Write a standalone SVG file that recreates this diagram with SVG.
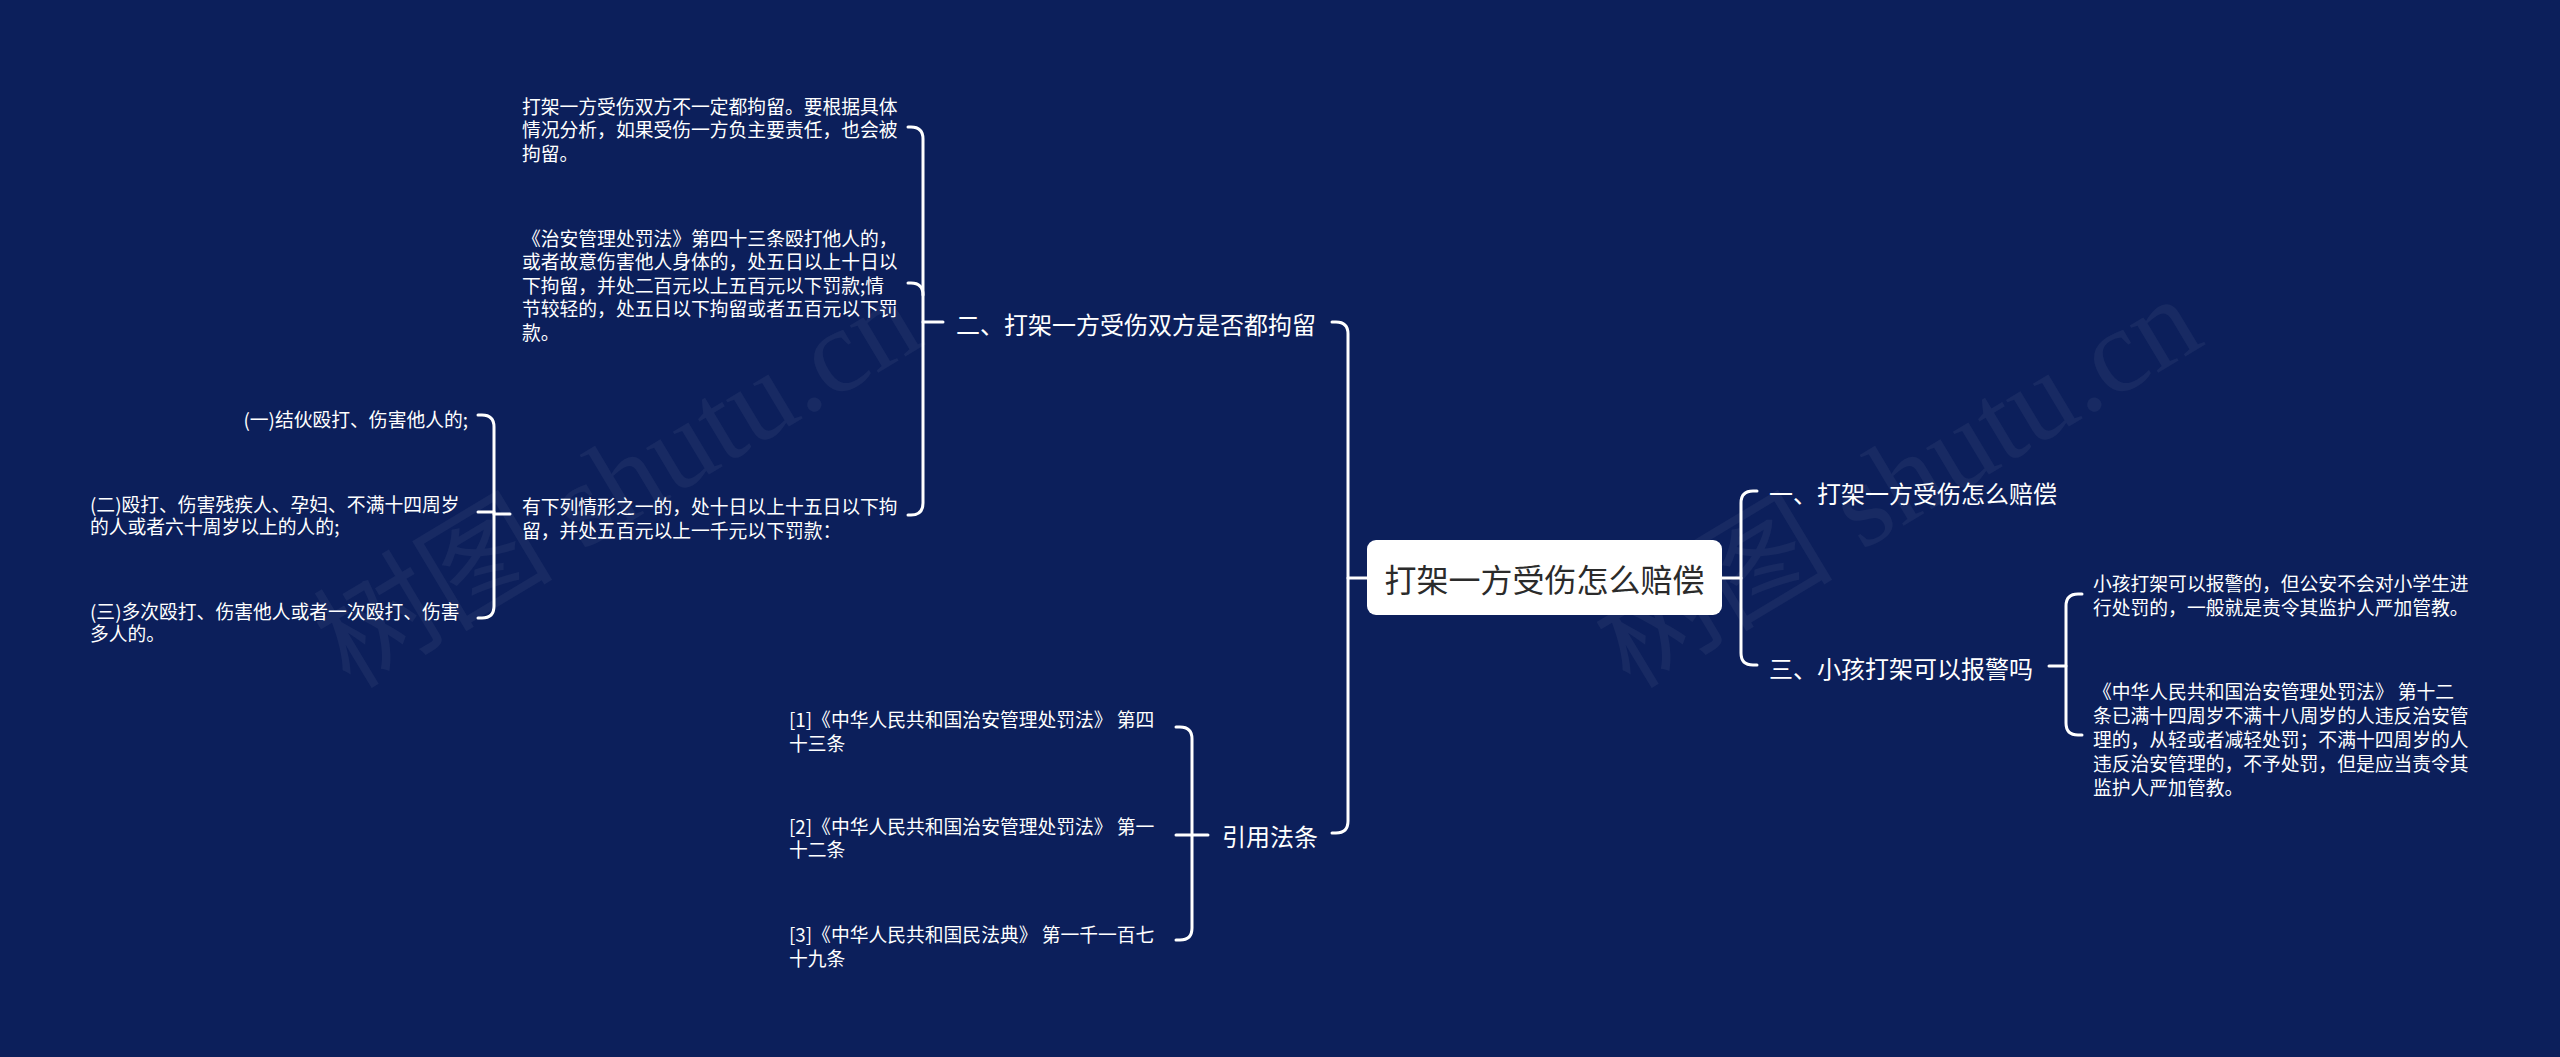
<svg xmlns="http://www.w3.org/2000/svg" width="2560" height="1057" viewBox="0 0 2560 1057">
<style>
.bg{fill:#0c1f5b}
.ln{fill:none;stroke:#ffffff;stroke-width:3;stroke-linecap:round;stroke-linejoin:round}
text{font-family:"Noto Sans CJK SC","Noto Sans",sans-serif;fill:#ffffff;dominant-baseline:central}
.leaf{font-size:18.8px}
.br{font-size:24px}
.root{font-size:32px;fill:#2b2b2b}
.wm{font-family:"Liberation Serif","Noto Sans CJK SC",serif;font-size:120px;fill:#ffffff;fill-opacity:0.05;dominant-baseline:auto}
</style>
<rect class="bg" x="0" y="0" width="2560" height="1057"/>
<g id="watermarks">
<text class="wm" transform="translate(350,690) rotate(-31)">树图 shutu.cn</text>
<text class="wm" transform="translate(1630,690) rotate(-31)">树图 shutu.cn</text>
</g>
<g id="connectors">
<path class="ln" d="M1367,578 H1348"/>
<path class="ln" d="M1332,322 H1336 Q1348,322 1348,334 V821 Q1348,833 1336,833 H1332"/>
<path class="ln" d="M943,322 H923"/>
<path class="ln" d="M908,127 H911 Q923,127 923,139 V503 Q923,515 911,515 H908"/>
<path class="ln" d="M908,283 H911 Q923,283 923,295"/>
<path class="ln" d="M510,514 H494"/>
<path class="ln" d="M478,415 H482 Q494,415 494,427 V606 Q494,618 482,618 H478"/>
<path class="ln" d="M478,512 H494"/>
<path class="ln" d="M1208,835 H1192"/>
<path class="ln" d="M1176,727 H1180 Q1192,727 1192,739 V928 Q1192,940 1180,940 H1176"/>
<path class="ln" d="M1176,835 H1192"/>
<path class="ln" d="M1722,578 H1741"/>
<path class="ln" d="M1757,491 H1753 Q1741,491 1741,503 V653 Q1741,665 1753,665 H1757"/>
<path class="ln" d="M2049,666 H2066"/>
<path class="ln" d="M2082,594 H2078 Q2066,594 2066,606 V723 Q2066,735 2078,735 H2082"/>
</g>
<g id="root">
<rect x="1367" y="540" width="355" height="75" rx="9" fill="#ffffff"/>
<text class="root" x="1544.5" y="578" text-anchor="middle">打架一方受伤怎么赔偿</text>
</g>
<g id="branch-2">
<text class="br" x="956" y="323">二、打架一方受伤双方是否都拘留</text>
</g>
<g id="b2-child-1">
<text class="leaf" x="522" y="105">打架一方受伤双方不一定都拘留。要根据具体</text>
<text class="leaf" x="522" y="128.5">情况分析，如果受伤一方负主要责任，也会被</text>
<text class="leaf" x="522" y="152">拘留。</text>
</g>
<g id="b2-child-2">
<text class="leaf" x="522" y="237">《治安管理处罚法》第四十三条殴打他人的，</text>
<text class="leaf" x="522" y="260.5">或者故意伤害他人身体的，处五日以上十日以</text>
<text class="leaf" x="522" y="284">下拘留，并处二百元以上五百元以下罚款;情</text>
<text class="leaf" x="522" y="307.5">节较轻的，处五日以下拘留或者五百元以下罚</text>
<text class="leaf" x="522" y="331">款。</text>
</g>
<g id="b2-child-3">
<text class="leaf" x="522" y="505.5">有下列情形之一的，处十日以上十五日以下拘</text>
<text class="leaf" x="522" y="529.5">留，并处五百元以上一千元以下罚款：</text>
</g>
<g id="item-1">
<text class="leaf" x="468" y="418" text-anchor="end">(一)结伙殴打、伤害他人的;</text>
</g>
<g id="item-2">
<text class="leaf" x="90" y="503">(二)殴打、伤害残疾人、孕妇、不满十四周岁</text>
<text class="leaf" x="90" y="525.5">的人或者六十周岁以上的人的;</text>
</g>
<g id="item-3">
<text class="leaf" x="90" y="610">(三)多次殴打、伤害他人或者一次殴打、伤害</text>
<text class="leaf" x="90" y="632.5">多人的。</text>
</g>
<g id="branch-law">
<text class="br" x="1222" y="835">引用法条</text>
</g>
<g id="law-1">
<text class="leaf" x="789" y="718">[1]《中华人民共和国治安管理处罚法》 第四</text>
<text class="leaf" x="789" y="742">十三条</text>
</g>
<g id="law-2">
<text class="leaf" x="789" y="825">[2]《中华人民共和国治安管理处罚法》 第一</text>
<text class="leaf" x="789" y="848">十二条</text>
</g>
<g id="law-3">
<text class="leaf" x="789" y="933">[3]《中华人民共和国民法典》 第一千一百七</text>
<text class="leaf" x="789" y="957">十九条</text>
</g>
<g id="branch-1">
<text class="br" x="1769" y="492">一、打架一方受伤怎么赔偿</text>
</g>
<g id="branch-3">
<text class="br" x="1769" y="667">三、小孩打架可以报警吗</text>
</g>
<g id="b3-child-1">
<text class="leaf" x="2093" y="582">小孩打架可以报警的，但公安不会对小学生进</text>
<text class="leaf" x="2093" y="606">行处罚的，一般就是责令其监护人严加管教。</text>
</g>
<g id="b3-child-2">
<text class="leaf" x="2093" y="690">《中华人民共和国治安管理处罚法》 第十二</text>
<text class="leaf" x="2093" y="714">条已满十四周岁不满十八周岁的人违反治安管</text>
<text class="leaf" x="2093" y="738">理的，从轻或者减轻处罚；不满十四周岁的人</text>
<text class="leaf" x="2093" y="762">违反治安管理的，不予处罚，但是应当责令其</text>
<text class="leaf" x="2093" y="786">监护人严加管教。</text>
</g>
</svg>
